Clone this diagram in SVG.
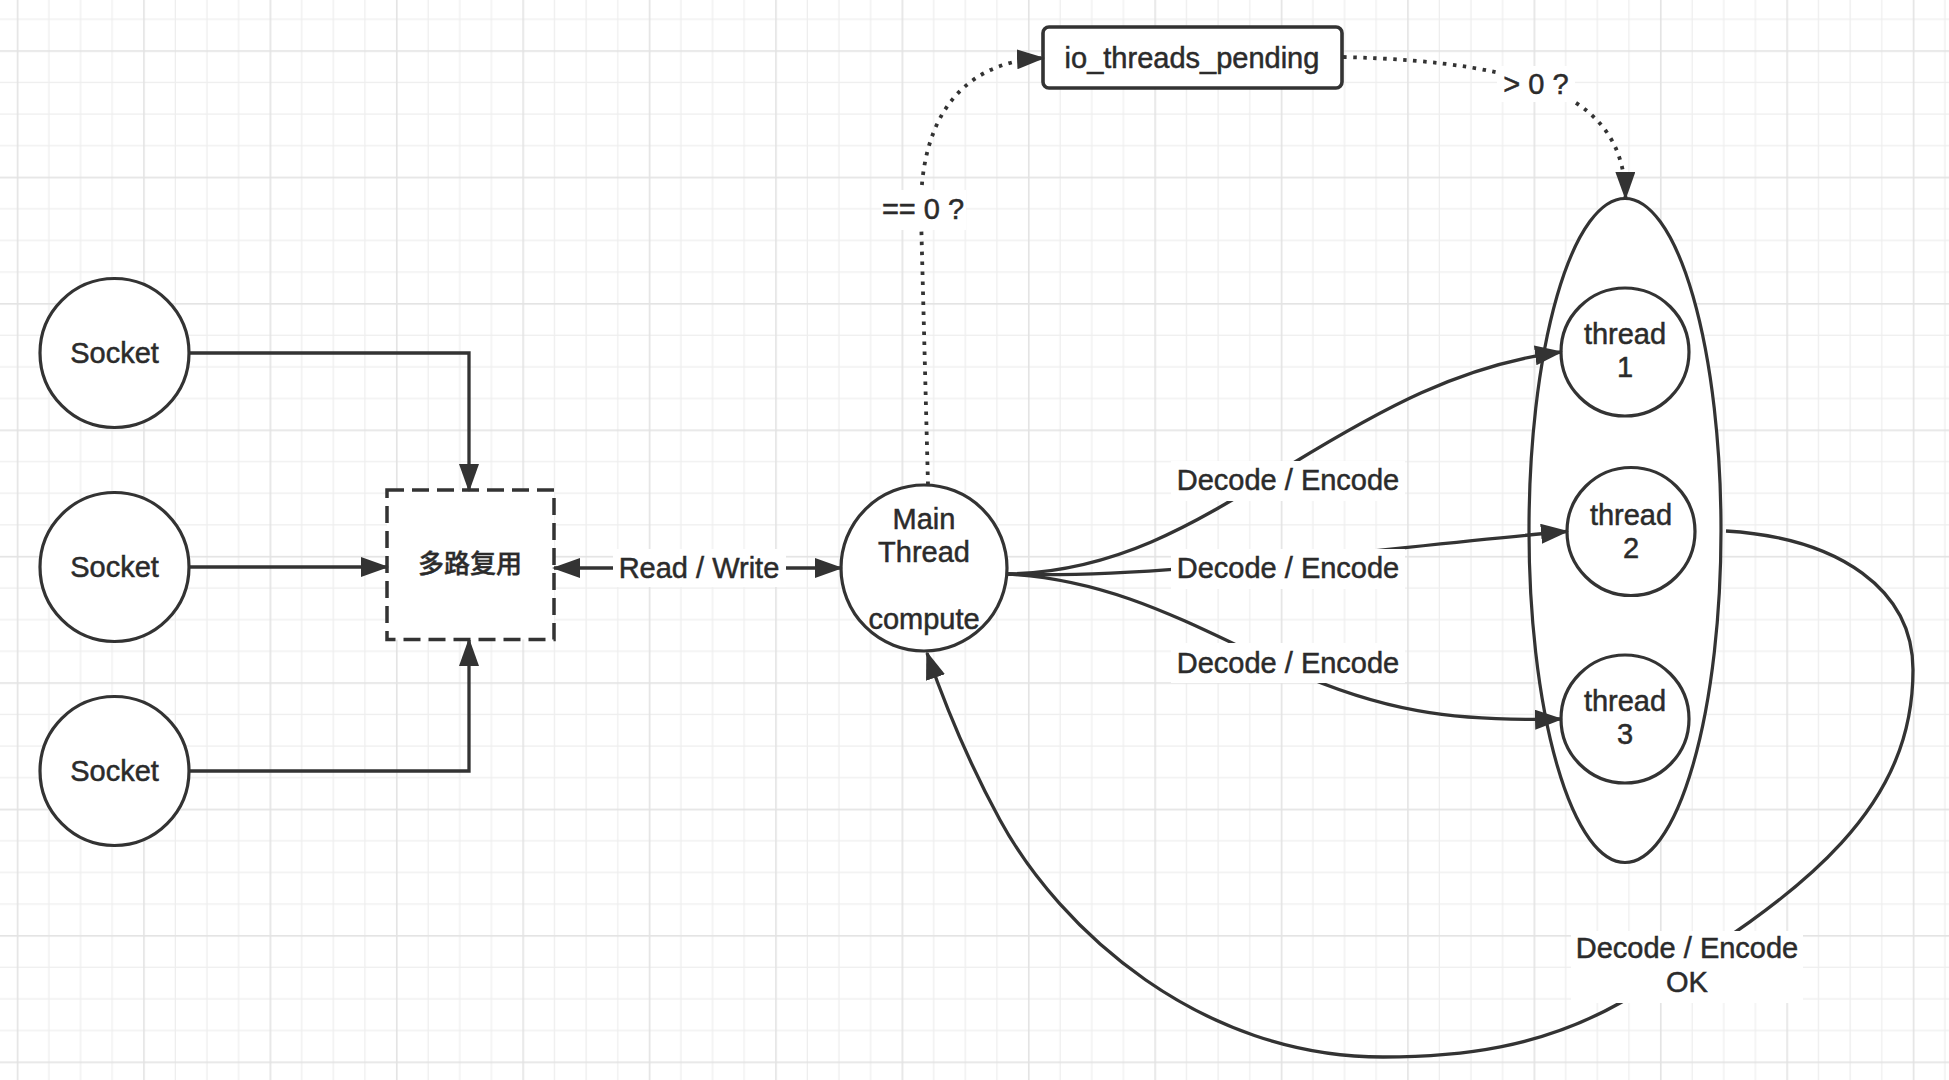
<svg xmlns="http://www.w3.org/2000/svg" width="1949" height="1080" viewBox="0 0 1949 1080">
<style>
.node{fill:#fff;stroke:#333;stroke-width:3.2}
.t{font-family:"Liberation Sans",Arial,sans-serif;font-size:29px;fill:#2b2b2b;stroke:#2b2b2b;stroke-width:0.5;text-anchor:middle}
.cjk{font-family:"Noto Sans CJK SC",sans-serif;font-size:26px;font-weight:500;fill:#2b2b2b;stroke:#2b2b2b;stroke-width:0.4;text-anchor:middle}
.edge{fill:none;stroke:#333;stroke-width:3.3}
.dot{fill:none;stroke:#333;stroke-width:3.8;stroke-dasharray:3.5 6.5}
.lbl{fill:#fff;stroke:none}
</style>
<defs>
<pattern id="grid" patternUnits="userSpaceOnUse" x="16.75" y="50.25" width="126.4" height="126.4">
<rect x="0" y="0" width="126.4" height="126.4" fill="#fff"/>
<g fill="#eeeeee">
<rect x="31.6" y="0" width="1.2" height="126.4"/>
<rect x="63.2" y="0" width="1.2" height="126.4"/>
<rect x="94.8" y="0" width="1.2" height="126.4"/>
<rect x="0" y="31.6" width="126.4" height="1.2"/>
<rect x="0" y="63.2" width="126.4" height="1.2"/>
<rect x="0" y="94.8" width="126.4" height="1.2"/>
</g>
<g fill="#e3e3e3">
<rect x="0" y="0" width="1.6" height="126.4"/>
<rect x="0" y="0" width="126.4" height="1.6"/>
</g>
</pattern>
<marker id="arr" markerUnits="userSpaceOnUse" markerWidth="28" markerHeight="20" refX="26" refY="10" orient="auto-start-reverse" viewBox="0 0 28 20">
<path d="M0,0 L28,10 L0,20 Z" fill="#333"/>
</marker>
</defs>
<rect x="0" y="0" width="1949" height="1080" fill="url(#grid)"/>

<g id="socket1"><circle class="node" cx="114.5" cy="353" r="74.5"/><text class="t" x="114.5" y="363">Socket</text></g>
<g id="socket2"><circle class="node" cx="114.5" cy="567" r="74.5"/><text class="t" x="114.5" y="577">Socket</text></g>
<g id="socket3"><circle class="node" cx="114.5" cy="771" r="74.5"/><text class="t" x="114.5" y="781">Socket</text></g>
<g id="mux"><rect x="387" y="490" width="167" height="149.5" fill="#fff" stroke="#333" stroke-width="3.5" stroke-dasharray="17 8"/><text class="cjk" x="470" y="573">多路复用</text></g>
<g id="main-thread"><circle class="node" cx="924" cy="568" r="83"/>
<text class="t" x="924" y="529">Main</text><text class="t" x="924" y="562">Thread</text><text class="t" x="924" y="629">compute</text></g>
<g id="io-threads-pending"><rect x="1043" y="27" width="299" height="61" rx="6" fill="#fff" stroke="#333" stroke-width="3.6"/><text class="t" x="1192" y="68">io_threads_pending</text></g>
<g id="thread-pool"><ellipse class="node" cx="1625" cy="530.5" rx="96" ry="332"/></g>
<g id="thread1"><circle class="node" cx="1625" cy="352" r="64"/><text class="t" x="1625" y="344">thread</text><text class="t" x="1625" y="377">1</text></g>
<g id="thread2"><circle class="node" cx="1631" cy="531.5" r="64"/><text class="t" x="1631" y="525">thread</text><text class="t" x="1631" y="558">2</text></g>
<g id="thread3"><circle class="node" cx="1625" cy="719" r="64"/><text class="t" x="1625" y="711">thread</text><text class="t" x="1625" y="744">3</text></g>

<g id="connectors">
<path class="edge" d="M189 353 H469 V490" marker-end="url(#arr)"/>
<path class="edge" d="M189 567 H387" marker-end="url(#arr)"/>
<path class="edge" d="M189 771 H469 V640" marker-end="url(#arr)"/>
<path class="edge" d="M554 568 H841" marker-start="url(#arr)" marker-end="url(#arr)"/>
<path class="dot" d="M928 485 L921 215 C919 120 960 62 1043 58" marker-end="url(#arr)"/>
<path class="dot" d="M1343 57 C1540 62 1625 100 1625.5 198" marker-end="url(#arr)"/>
<path class="edge" d="M1007 574 C1120 572 1200 520 1290 465 C1380 410 1460 365 1561 352" marker-end="url(#arr)"/>
<path class="edge" d="M1007 574 C1150 580 1380 548 1567 531.5" marker-end="url(#arr)"/>
<path class="edge" d="M1007 574 C1120 580 1200 630 1290 670 C1380 710 1450 722 1561 719" marker-end="url(#arr)"/>
<path class="edge" d="M1726 531 C1840 538 1913 590 1913 670 C1913 800 1820 890 1620 1003 C1540 1048 1460 1057 1383 1057 C1200 1057 1060 930 1000 820 C970 765 945 705 927 653" marker-end="url(#arr)"/>

<rect class="lbl" x="613" y="549" width="173" height="38"/><text class="t" x="699" y="578">Read / Write</text>
<rect class="lbl" x="881" y="190" width="85" height="40"/><text class="t" x="923" y="219">== 0 ?</text>
<rect class="lbl" x="1497" y="66" width="78" height="36"/><text class="t" x="1536" y="94">&gt; 0 ?</text>
<rect class="lbl" x="1171" y="461" width="234" height="40"/><text class="t" x="1288" y="490">Decode / Encode</text>
<rect class="lbl" x="1171" y="549" width="234" height="40"/><text class="t" x="1288" y="578">Decode / Encode</text>
<rect class="lbl" x="1171" y="643" width="234" height="40"/><text class="t" x="1288" y="673">Decode / Encode</text>
<rect class="lbl" x="1571" y="931" width="232" height="72"/><text class="t" x="1687" y="958">Decode / Encode</text><text class="t" x="1687" y="992">OK</text>
</g>
</svg>
